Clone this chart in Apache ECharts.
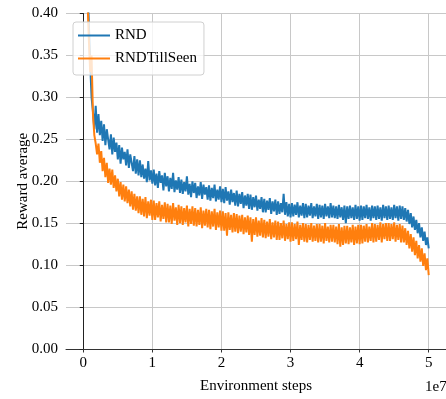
<!DOCTYPE html>
<html>
<head>
<meta charset="utf-8">
<script src="https://cdn.jsdelivr.net/npm/echarts@6/dist/echarts.min.js"></script>
<style>html,body{margin:0;padding:0;background:#fff}#c{width:446px;height:399px}</style>
</head>
<body>
<div id="c"></div>
<script>
// x positions in units of 1e7 environment steps (step 0.02e7, starting at 0.02e7)
const stepStart = 0.02;
const stepSize = 0.02;
const xTicks = [0, 1, 2, 3, 4, 5];
const seriesNames = ['RND', 'RNDTillSeen'];

const rnd = [
0.56,0.50,0.44,0.39,0.34,0.30,0.283,0.262,0.290,0.258,
0.280,0.255,0.272,0.248,0.268,0.243,0.262,0.250,0.238,0.256,
0.232,0.252,0.235,0.246,0.226,0.243,0.221,0.240,0.226,0.235,
0.219,0.238,0.216,0.232,0.222,0.212,0.230,0.209,0.226,0.207,
0.225,0.205,0.220,0.203,0.215,0.199,0.224,0.201,0.213,0.197,
0.214,0.195,0.209,0.192,0.212,0.198,0.207,0.189,0.210,0.194,
0.206,0.188,0.204,0.191,0.210,0.187,0.201,0.190,0.205,0.186,
0.202,0.185,0.199,0.188,0.206,0.184,0.197,0.181,0.200,0.186,
0.198,0.180,0.194,0.183,0.199,0.179,0.196,0.184,0.193,0.178,
0.195,0.177,0.192,0.180,0.196,0.176,0.190,0.178,0.194,0.175,
0.191,0.174,0.193,0.177,0.188,0.172,0.190,0.175,0.186,0.171,
0.189,0.170,0.185,0.173,0.187,0.168,0.183,0.171,0.185,0.167,
0.184,0.166,0.181,0.169,0.183,0.165,0.178,0.167,0.181,0.163,
0.179,0.163,0.177,0.166,0.180,0.161,0.176,0.164,0.178,0.160,
0.176,0.161,0.174,0.163,0.185,0.160,0.175,0.158,0.173,0.157,
0.174,0.158,0.172,0.160,0.175,0.157,0.171,0.159,0.174,0.156,
0.173,0.157,0.171,0.159,0.174,0.156,0.170,0.158,0.173,0.155,
0.172,0.157,0.171,0.155,0.173,0.158,0.170,0.156,0.174,0.157,
0.171,0.156,0.170,0.155,0.172,0.157,0.169,0.154,0.171,0.150,
0.170,0.155,0.171,0.156,0.169,0.154,0.172,0.155,0.170,0.153,
0.171,0.154,0.170,0.156,0.172,0.155,0.169,0.153,0.171,0.156,
0.170,0.154,0.171,0.155,0.169,0.153,0.172,0.156,0.170,0.154,
0.171,0.155,0.169,0.154,0.172,0.156,0.170,0.153,0.171,0.155,
0.170,0.154,0.168,0.152,0.166,0.149,0.162,0.145,0.158,0.142,
0.154,0.138,0.150,0.133,0.145,0.129,0.140,0.124,0.133,0.120
];

const rndTillSeen = [
0.55,0.48,0.42,0.37,0.33,0.35,0.28,0.255,0.245,0.232,
0.245,0.222,0.236,0.212,0.228,0.205,0.222,0.198,0.215,0.196,
0.214,0.192,0.207,0.188,0.203,0.182,0.199,0.178,0.196,0.176,
0.194,0.174,0.190,0.170,0.188,0.166,0.185,0.165,0.182,0.162,
0.182,0.160,0.179,0.158,0.181,0.156,0.176,0.159,0.178,0.154,
0.177,0.154,0.174,0.157,0.176,0.152,0.172,0.155,0.175,0.151,
0.173,0.151,0.171,0.149,0.174,0.153,0.169,0.148,0.172,0.150,
0.170,0.148,0.168,0.151,0.171,0.146,0.167,0.149,0.170,0.147,
0.168,0.146,0.166,0.148,0.169,0.144,0.165,0.147,0.167,0.145,
0.166,0.143,0.164,0.146,0.167,0.142,0.163,0.145,0.165,0.141,
0.164,0.141,0.162,0.135,0.163,0.142,0.160,0.139,0.162,0.140,
0.161,0.138,0.159,0.140,0.160,0.137,0.157,0.139,0.159,0.136,
0.157,0.128,0.155,0.136,0.157,0.134,0.153,0.135,0.156,0.133,
0.154,0.132,0.152,0.134,0.155,0.131,0.151,0.133,0.153,0.130,
0.152,0.130,0.150,0.132,0.153,0.129,0.149,0.131,0.151,0.128,
0.151,0.129,0.149,0.131,0.152,0.124,0.148,0.130,0.150,0.128,
0.149,0.127,0.148,0.130,0.150,0.128,0.147,0.129,0.149,0.127,
0.149,0.128,0.147,0.126,0.150,0.129,0.146,0.127,0.148,0.128,
0.148,0.127,0.146,0.125,0.149,0.122,0.145,0.124,0.147,0.126,
0.147,0.125,0.145,0.127,0.148,0.124,0.146,0.126,0.148,0.125,
0.148,0.126,0.147,0.128,0.149,0.127,0.146,0.129,0.150,0.127,
0.149,0.128,0.148,0.130,0.151,0.127,0.149,0.131,0.150,0.129,
0.150,0.129,0.149,0.131,0.151,0.128,0.148,0.130,0.149,0.127,
0.147,0.127,0.144,0.124,0.141,0.120,0.137,0.116,0.133,0.112,
0.129,0.108,0.124,0.104,0.120,0.099,0.114,0.094,0.108,0.088
];

function pairs(vals) {
  return vals.map((v, i) => [+(stepStart + i * stepSize).toFixed(4), v]);
}

const FONT = '"Liberation Serif", "DejaVu Serif", serif';
const chart = echarts.init(document.getElementById('c'), null, {renderer: 'canvas'});
chart.setOption({
  animation: false,
  backgroundColor: '#ffffff',
  grid: {left: 66, top: 13.5, width: 381, height: 336.5, containLabel: false},
  legend: {
    orient: 'vertical',
    left: 73, top: 22,
    padding: [6, 7, 9, 5],
    itemGap: 8,
    itemWidth: 32, itemHeight: 2,
    itemTextGap: 11,
    icon: 'rect',
    backgroundColor: 'rgba(255,255,255,0.8)',
    borderColor: '#d0d0d0', borderWidth: 1, borderRadius: 3,
    textStyle: {fontFamily: FONT, fontSize: 15, color: '#000'},
    data: seriesNames
  },
  xAxis: {
    type: 'value',
    min: -0.25, max: 5.25,
    name: 'Environment steps',
    nameLocation: 'middle', nameGap: 30, nameMoveOverlap: false,
    nameTextStyle: {fontFamily: FONT, fontSize: 15, color: '#000'},
    axisLine: {onZero: false, lineStyle: {color: '#333', width: 1}},
    axisTick: {show: true, length: 3.5, customValues: xTicks, lineStyle: {color: '#333'}},
    axisLabel: {customValues: xTicks, fontFamily: FONT, fontSize: 15, color: '#000', margin: 7},
    splitLine: {show: true, lineStyle: {color: '#c8c8c8', width: 1}}
  },
  yAxis: {
    type: 'value',
    min: 0, max: 0.4, interval: 0.05,
    name: 'Reward average',
    nameLocation: 'middle', nameGap: 35, nameMoveOverlap: false,
    nameTextStyle: {fontFamily: FONT, fontSize: 15, color: '#000'},
    axisLine: {show: true, lineStyle: {color: '#222', width: 1}},
    axisTick: {show: true, length: 3.5, lineStyle: {color: '#222'}},
    axisLabel: {fontFamily: FONT, fontSize: 15, color: '#000', margin: 8,
      formatter: v => v.toFixed(2)},
    splitLine: {show: true, lineStyle: {color: '#c8c8c8', width: 1}}
  },
  graphic: [{
    type: 'text', left: 425, top: 380,
    style: {text: '1e7', font: '15px ' + FONT, fill: '#000'}
  }],
  series: [
    {name: seriesNames[0], type: 'line', data: pairs(rnd), showSymbol: false, symbol: 'none',
     clip: true, lineStyle: {color: '#1f77b4', width: 2}, itemStyle: {color: '#1f77b4'}, z: 2},
    {name: seriesNames[1], type: 'line', data: pairs(rndTillSeen), showSymbol: false, symbol: 'none',
     clip: true, lineStyle: {color: '#ff7f0e', width: 2}, itemStyle: {color: '#ff7f0e'}, z: 3}
  ]
});
</script>
</body>
</html>
